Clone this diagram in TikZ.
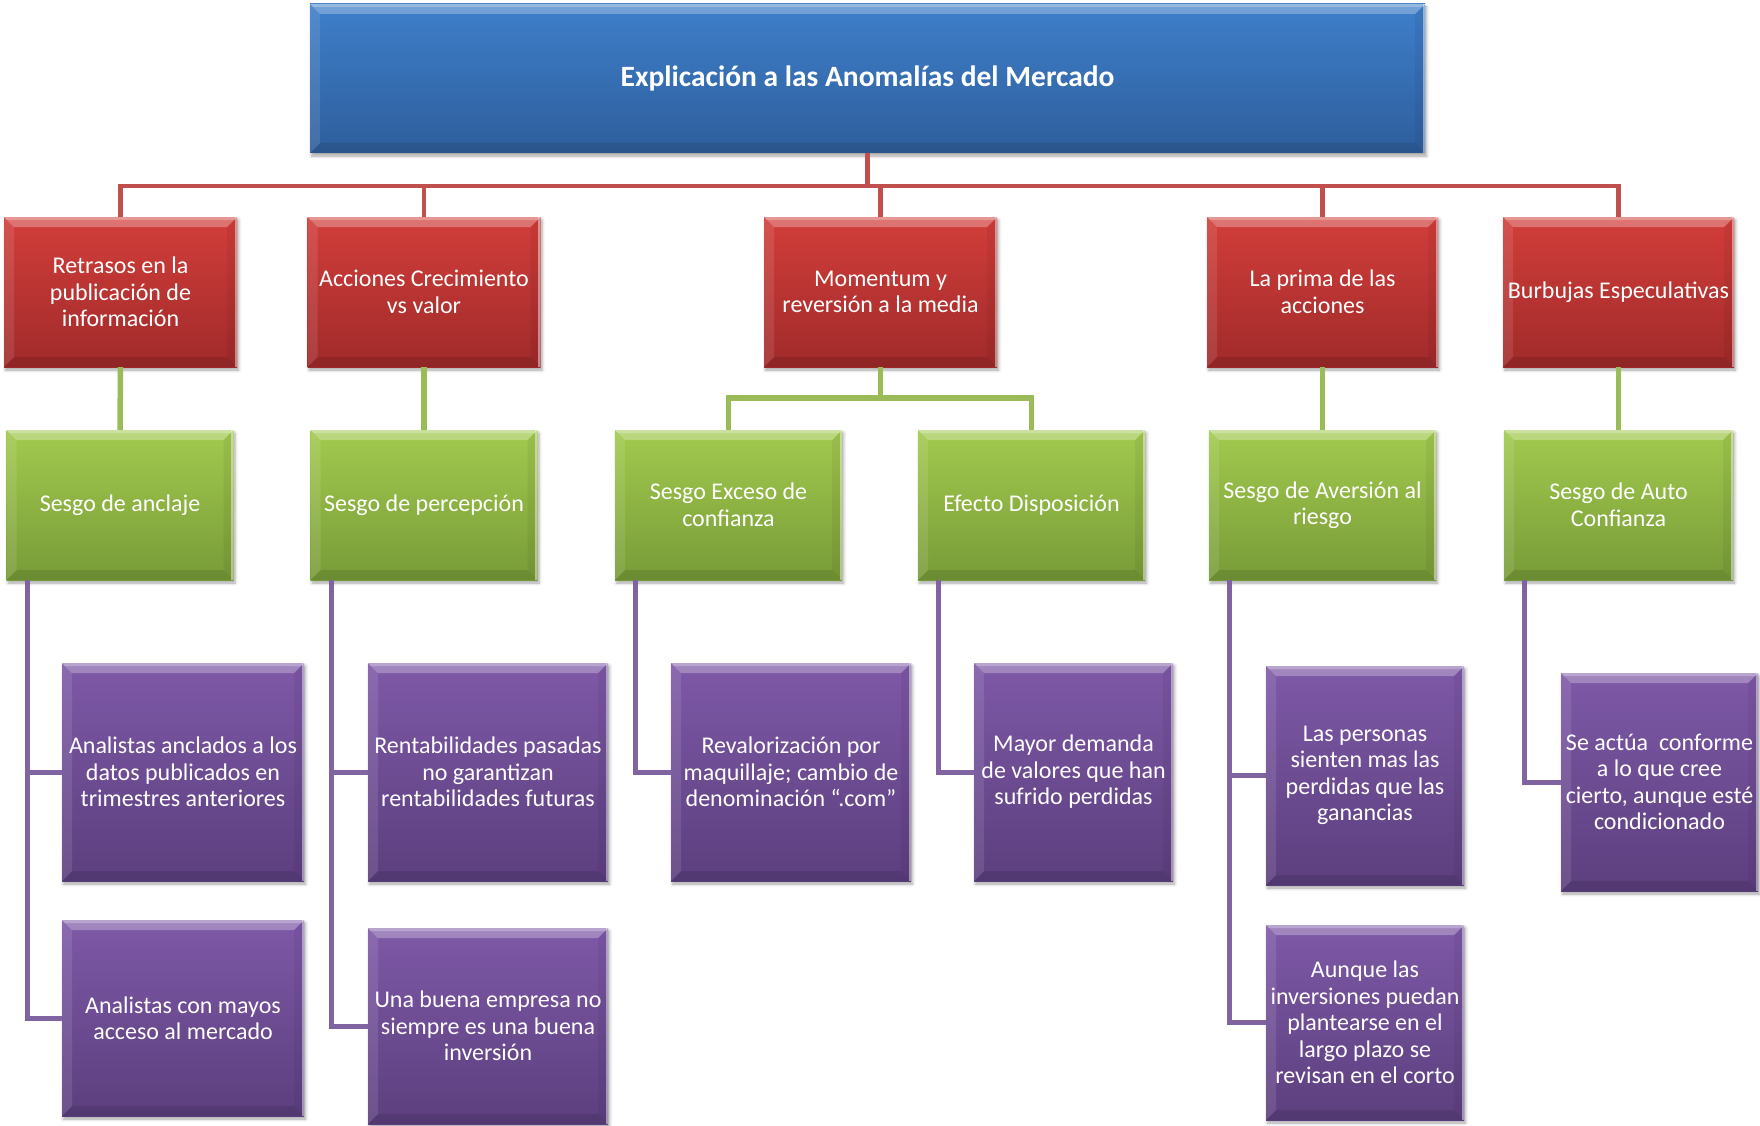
\documentclass[tikz,border=0pt]{standalone}
\usepackage{fontspec}
\setmainfont{Carlito}
\usetikzlibrary{calc,shadows.blur}

\definecolor{bluetop}{RGB}{62,127,202}
\definecolor{bluebot}{RGB}{46,94,156}
\definecolor{redtop}{RGB}{210,62,58}
\definecolor{redbot}{RGB}{160,42,42}
\definecolor{greentop}{RGB}{162,202,78}
\definecolor{greenbot}{RGB}{120,155,56}
\definecolor{purpletop}{RGB}{126,89,167}
\definecolor{purplebot}{RGB}{92,63,126}
\definecolor{redlink}{RGB}{192,80,77}
\definecolor{greenlink}{RGB}{155,187,89}
\definecolor{purplelink}{RGB}{128,100,162}

\tikzset{
  bevel/.style={path picture={
    \coordinate (bnw) at (path picture bounding box.north west);
    \coordinate (bne) at (path picture bounding box.north east);
    \coordinate (bsw) at (path picture bounding box.south west);
    \coordinate (bse) at (path picture bounding box.south east);
    % top facet
    \fill[white,opacity=0.28] (bnw) -- (bne) -- ($(bne)+(-10pt,-10pt)$) -- ($(bnw)+(10pt,-10pt)$) -- cycle;
    \fill[white,opacity=0.25] (bnw) -- (bne) -- ($(bne)+(-3pt,-3pt)$) -- ($(bnw)+(3pt,-3pt)$) -- cycle;
    % left facet
    \fill[white,opacity=0.10] (bnw) -- ($(bnw)+(10pt,-10pt)$) -- ($(bsw)+(10pt,10pt)$) -- (bsw) -- cycle;
    % bottom facet
    \fill[black,opacity=0.10] (bsw) -- (bse) -- ($(bse)+(-10pt,10pt)$) -- ($(bsw)+(10pt,10pt)$) -- cycle;
    % right facet with a light rim
    \fill[black,opacity=0.05] (bne) -- (bse) -- ($(bse)+(-10pt,10pt)$) -- ($(bne)+(-10pt,-10pt)$) -- cycle;
    \fill[white,opacity=0.45] ($(bne)+(-2.5pt,0pt)$) rectangle (bse);
  }},
  box/.style={draw=none, inner sep=0pt, align=center, text=white,
    font=\fontsize{24}{26.5}\selectfont, bevel,
    blur shadow={shadow xshift=1.5pt, shadow yshift=-3pt, shadow opacity=35, shadow blur radius=3pt}},
  titlebox/.style={box, top color=bluetop, bottom color=bluebot,
    font=\bfseries\fontsize{29.5}{32}\selectfont},
  redbox/.style={box, top color=redtop, bottom color=redbot, minimum width=233pt, minimum height=150pt},
  greenbox/.style={box, top color=greentop, bottom color=greenbot, minimum width=227pt, minimum height=150pt},
  purplebox/.style={box, top color=purpletop, bottom color=purplebot},
  redline/.style={draw=redlink, line width=4.5pt},
  greenline/.style={draw=greenlink, line width=5.5pt},
  purpleline/.style={draw=purplelink, line width=5pt},
}

\begin{document}
\begin{tikzpicture}[x=1pt, y=-1pt]
\useasboundingbox (0,0) rectangle (1760,1126);

% root
\node[titlebox, minimum width=1115pt, minimum height=149pt] (top) at (867.5,78.5)
  {Explicación a las Anomalías del Mercado};

% anomalies
\node[redbox] (r1) at (120.5,292) {Retrasos en la\\publicación de\\información};
\node[redbox] (r2) at (424,292) {Acciones Crecimiento\\vs valor};
\node[redbox] (r3) at (880.5,292) {Momentum y\\reversión a la media};
\node[redbox, minimum width=231pt] (r4) at (1322.5,292) {La prima de las\\acciones};
\node[redbox, minimum width=231pt] (r5) at (1618.5,292) {Burbujas Especulativas};

% biases
\node[greenbox] (g1) at (120,505) {Sesgo de anclaje};
\node[greenbox] (g2) at (424,505) {Sesgo de percepción};
\node[greenbox] (g3) at (728.5,505) {Sesgo Exceso de\\confianza};
\node[greenbox] (g4) at (1031.5,505) {Efecto Disposición};
\node[greenbox] (g5) at (1322.5,505) {Sesgo de Aversión al\\riesgo};
\node[greenbox, minimum width=229pt] (g6) at (1618.5,505) {Sesgo de Auto\\Confianza};

% explanations
\node[purplebox, minimum width=242pt, minimum height=218pt] (p1a) at (183,772)
  {Analistas anclados a los\\datos publicados en\\trimestres anteriores};
\node[purplebox, minimum width=242pt, minimum height=196pt] (p1b) at (183,1018)
  {Analistas con mayos\\acceso al mercado};
\node[purplebox, minimum width=240pt, minimum height=218pt] (p2a) at (488,772)
  {Rentabilidades pasadas\\no garantizan\\rentabilidades futuras};
\node[purplebox, minimum width=240pt, minimum height=196pt] (p2b) at (488,1026)
  {Una buena empresa no\\siempre es una buena\\inversión};
\node[purplebox, minimum width=240pt, minimum height=218pt] (p3a) at (791,772)
  {Revalorización por\\maquillaje; cambio de\\denominación “.com”};
\node[purplebox, minimum width=199pt, minimum height=218pt] (p4a) at (1073.5,772)
  {Mayor demanda\\de valores que han\\sufrido perdidas};
\node[purplebox, minimum width=198pt, minimum height=219pt] (p5a) at (1365,775.5)
  {Las personas\\sienten mas las\\perdidas que las\\ganancias};
\node[purplebox, minimum width=198pt, minimum height=195pt] (p5b) at (1365,1022.5)
  {Aunque las\\inversiones puedan\\plantearse en el\\largo plazo se\\revisan en el corto};
\node[purplebox, minimum width=197pt, minimum height=218pt] (p6a) at (1659.5,782)
  {Se actúa\ \ conforme\\a lo que cree\\cierto, aunque esté\\condicionado};

% root to anomalies
\coordinate (bus) at (0,186);
\foreach \n in {r1,r2,r3,r4,r5}
  \draw[redline] (top.south) -- (top.south |- bus) -| (\n.north);

% anomalies to biases
\coordinate (gbus) at (0,398);
\draw[greenline] (r1.south) -- (g1.north);
\draw[greenline] (r2.south) -- (g2.north);
\draw[greenline] (r3.south) -- (r3.south |- gbus) -| (g3.north);
\draw[greenline] (r3.south) -- (r3.south |- gbus) -| (g4.north);
\draw[greenline] (r4.south) -- (g5.north);
\draw[greenline] (r5.south) -- (g6.north);

% biases to explanations
\foreach \g/\p in {g1/p1a,g1/p1b,g2/p2a,g2/p2b,g3/p3a,g4/p4a,g5/p5a,g5/p5b,g6/p6a}
  \draw[purpleline] ($(\g.south west)+(21pt,0pt)$) |- (\p.west);
\end{tikzpicture}
\end{document}
